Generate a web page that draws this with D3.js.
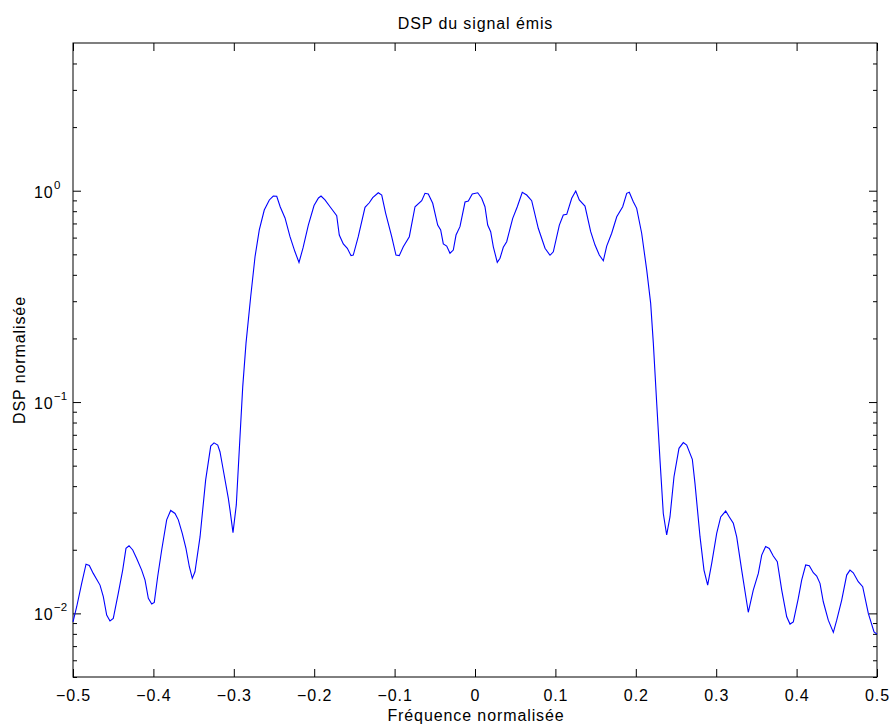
<!DOCTYPE html>
<html>
<head>
<meta charset="utf-8">
<script src="https://cdn.jsdelivr.net/npm/d3@7"></script>
<style>
  body { margin: 0; background: #fff; }
  text { font-family: "Liberation Sans", Arial, Helvetica, sans-serif; fill: #000; }
</style>
</head>
<body>
<svg id="chart" width="891" height="726"></svg>
<script>
// normalized frequency
var freq = [
  -0.5, -0.4954, -0.4892, -0.4838, -0.4797, -0.4748, -0.4664, -0.4623, -0.4581, -0.4540,
  -0.4499, -0.4437, -0.4382, -0.4341, -0.4303, -0.4257, -0.4208, -0.4146, -0.4104, -0.4063,
  -0.4021, -0.3989, -0.3947, -0.3897, -0.3835, -0.3785, -0.3731, -0.3690, -0.3641, -0.3595,
  -0.3553, -0.3516, -0.3483, -0.3420, -0.3350, -0.3287, -0.3246, -0.3200, -0.3172, -0.3131,
  -0.3068, -0.3047, -0.3010, -0.2969, -0.2923, -0.2889, -0.2848, -0.2790, -0.2736, -0.2683,
  -0.2621, -0.2558, -0.2509, -0.2466, -0.2422, -0.2363, -0.2301, -0.2239, -0.2189, -0.2139,
  -0.2073, -0.2002, -0.1947, -0.1915, -0.1866, -0.1803, -0.1720, -0.1688, -0.1638, -0.1588,
  -0.1542, -0.1514, -0.1452, -0.1368, -0.1315, -0.1272, -0.1203, -0.1160, -0.1111, -0.1036,
  -0.0983, -0.0942, -0.0892, -0.0817, -0.0746, -0.0663, -0.0622, -0.0581, -0.0526, -0.0464,
  -0.0427, -0.0394, -0.0352, -0.0311, -0.0270, -0.0236, -0.0187, -0.0124, -0.0083, -0.0034,
  0.0034, 0.0083, 0.0124, 0.0158, 0.0195, 0.0228, 0.0277, 0.0311, 0.0352, 0.0394,
  0.0469, 0.0526, 0.0588, 0.0643, 0.0705, 0.0787, 0.0871, 0.0933, 0.0974, 0.1049,
  0.1098, 0.1141, 0.1203, 0.1253, 0.1297, 0.1368, 0.1439, 0.1493, 0.1546, 0.1596,
  0.1638, 0.1700, 0.1763, 0.1837, 0.1887, 0.1919, 0.1969, 0.2011, 0.2073, 0.2136,
  0.2185, 0.2218, 0.2260, 0.2301, 0.2342, 0.2384, 0.2425, 0.2475, 0.2537, 0.2591,
  0.2633, 0.2703, 0.2736, 0.2799, 0.2848, 0.2894, 0.2944, 0.3006, 0.3056, 0.3118,
  0.3163, 0.3213, 0.3255, 0.3317, 0.3399, 0.3461, 0.3524, 0.3566, 0.3615, 0.3660,
  0.3710, 0.3760, 0.3815, 0.3877, 0.3918, 0.3959, 0.4021, 0.4063, 0.4113, 0.4158,
  0.4208, 0.4250, 0.4291, 0.4332, 0.4394, 0.4457, 0.4499, 0.4561, 0.4623, 0.4664,
  0.4705, 0.4767, 0.4822, 0.4892, 0.4963, 0.5
];
// normalized PSD, same order
var psd = [
  0.00912, 0.01075, 0.01387, 0.0171, 0.01687, 0.01546, 0.01361, 0.0120, 0.00982, 0.00920,
  0.00947, 0.01244, 0.01603, 0.0203, 0.0209, 0.01995, 0.0182, 0.01603, 0.01438, 0.01178,
  0.01107, 0.01127, 0.0149, 0.01995, 0.0277, 0.0307, 0.0297, 0.0277, 0.0239, 0.0203,
  0.01662, 0.01465, 0.01574, 0.0230, 0.0428, 0.0619, 0.0641, 0.0626, 0.0582, 0.0477,
  0.0350, 0.0308, 0.0241, 0.0326, 0.0685, 0.118, 0.190, 0.315, 0.487, 0.652,
  0.810, 0.904, 0.944, 0.941, 0.837, 0.743, 0.606, 0.514, 0.458, 0.536,
  0.688, 0.851, 0.924, 0.944, 0.904, 0.840, 0.762, 0.617, 0.560, 0.534,
  0.493, 0.496, 0.606, 0.835, 0.877, 0.927, 0.978, 0.954, 0.782, 0.606,
  0.496, 0.493, 0.543, 0.606, 0.840, 0.897, 0.972, 0.965, 0.872, 0.688,
  0.652, 0.560, 0.547, 0.506, 0.524, 0.617, 0.676, 0.884, 0.894, 0.965,
  0.978, 0.921, 0.840, 0.688, 0.640, 0.543, 0.458, 0.479, 0.540, 0.574,
  0.740, 0.840, 0.983, 0.954, 0.897, 0.664, 0.534, 0.495, 0.514, 0.688,
  0.767, 0.773, 0.921, 0.997, 0.904, 0.846, 0.640, 0.553, 0.496, 0.466,
  0.547, 0.629, 0.753, 0.840, 0.972, 0.983, 0.887, 0.825, 0.629, 0.421,
  0.293, 0.190, 0.0986, 0.0531, 0.0297, 0.0235, 0.0286, 0.0443, 0.0604, 0.0643,
  0.0626, 0.0536, 0.0412, 0.0230, 0.01603, 0.01361, 0.01725, 0.0239, 0.0286, 0.0305,
  0.0286, 0.0267, 0.0230, 0.01603, 0.01012, 0.01288, 0.01546, 0.01888, 0.0207, 0.0203,
  0.01867, 0.01755, 0.01288, 0.00964, 0.00890, 0.00912, 0.01178, 0.01438, 0.01694, 0.01679,
  0.01557, 0.01502, 0.01387, 0.01135, 0.00929, 0.00813, 0.00929, 0.01156, 0.01518, 0.01603,
  0.01557, 0.01412, 0.01337, 0.0100, 0.00818, 0.00798
];

var xTicks = [-0.5, -0.4, -0.3, -0.2, -0.1, 0, 0.1, 0.2, 0.3, 0.4, 0.5];
var yMajor = [1e-2, 1e-1, 1e0];
var yExp = ["\u22122", "\u22121", "0"];

var mL = 73, mR = 877, mT = 43, mB = 677;
var svg = d3.select("#chart");

var x = d3.scaleLinear().domain([-0.5, 0.5]).range([mL, mR]);
var y = d3.scaleLog().domain([0.005, 5]).range([mB, mT]);

// minor log ticks 2..9 per decade inside the domain
var yMinor = [];
[1e-3, 1e-2, 1e-1, 1e0].forEach(function (dec) {
  for (var k = 2; k <= 9; k++) {
    var v = k * dec;
    if (v >= 0.005 && v < 5) yMinor.push(v);
  }
});

var fmt = function (d) { return d === 0 ? "0" : d3.format(".1f")(d); };

// x axis bottom / top
var gxb = svg.append("g").attr("transform", "translate(0," + mB + ")")
  .call(d3.axisBottom(x).tickValues(xTicks).tickSizeInner(-8).tickSizeOuter(0).tickFormat(fmt));
gxb.selectAll("text").attr("y", 24).attr("dy", null)
  .style("font-size", "16px").style("letter-spacing", "0.9px");
svg.append("g").attr("transform", "translate(0," + mT + ")")
  .call(d3.axisTop(x).tickValues(xTicks).tickSizeInner(-8).tickSizeOuter(0).tickFormat(""));

// y axis left / right (major + minor)
svg.append("g").attr("transform", "translate(" + mL + ",0)")
  .call(d3.axisLeft(y).tickValues(yMajor).tickSizeInner(-8).tickSizeOuter(0).tickFormat(""));
svg.append("g").attr("transform", "translate(" + mL + ",0)")
  .call(d3.axisLeft(y).tickValues(yMinor).tickSizeInner(-4).tickSizeOuter(0).tickFormat(""));
svg.append("g").attr("transform", "translate(" + mR + ",0)")
  .call(d3.axisRight(y).tickValues(yMajor).tickSizeInner(-8).tickSizeOuter(0).tickFormat(""));
svg.append("g").attr("transform", "translate(" + mR + ",0)")
  .call(d3.axisRight(y).tickValues(yMinor).tickSizeInner(-4).tickSizeOuter(0).tickFormat(""));

svg.selectAll(".domain").remove();
svg.selectAll(".tick line").attr("stroke", "#000").attr("stroke-width", 1);

// y labels 10^n
yMajor.forEach(function (v, i) {
  svg.append("text").attr("x", 53.5).attr("y", y(v) + 7).attr("text-anchor", "end")
    .style("font-size", "16px").style("letter-spacing", "0.9px").text("10");
  svg.append("text").attr("x", 54).attr("y", y(v) - 2)
    .style("font-size", "11.5px").text(yExp[i]);
});

// frame
svg.append("rect").attr("x", mL).attr("y", mT)
  .attr("width", mR - mL).attr("height", mB - mT)
  .attr("fill", "none").attr("stroke", "#000").attr("stroke-width", 1);

// curve
var line = d3.line().x(function (d, i) { return x(freq[i]); }).y(function (d) { return y(d); });
svg.append("path").datum(psd).attr("d", line)
  .attr("fill", "none").attr("stroke", "#0000ff").attr("stroke-width", 1.1);

// texts
svg.append("text").attr("x", 475.5).attr("y", 29).attr("text-anchor", "middle")
  .style("font-size", "16px").style("letter-spacing", "0.9px").text("DSP du signal émis");
svg.append("text").attr("x", 476).attr("y", 720.5).attr("text-anchor", "middle")
  .style("font-size", "16px").style("letter-spacing", "0.9px").text("Fréquence normalisée");
svg.append("text").attr("transform", "translate(25," + ((mT + mB) / 2) + ") rotate(-90)")
  .attr("text-anchor", "middle")
  .style("font-size", "16px").style("letter-spacing", "0.9px").text("DSP normalisée");
</script>
</body>
</html>
